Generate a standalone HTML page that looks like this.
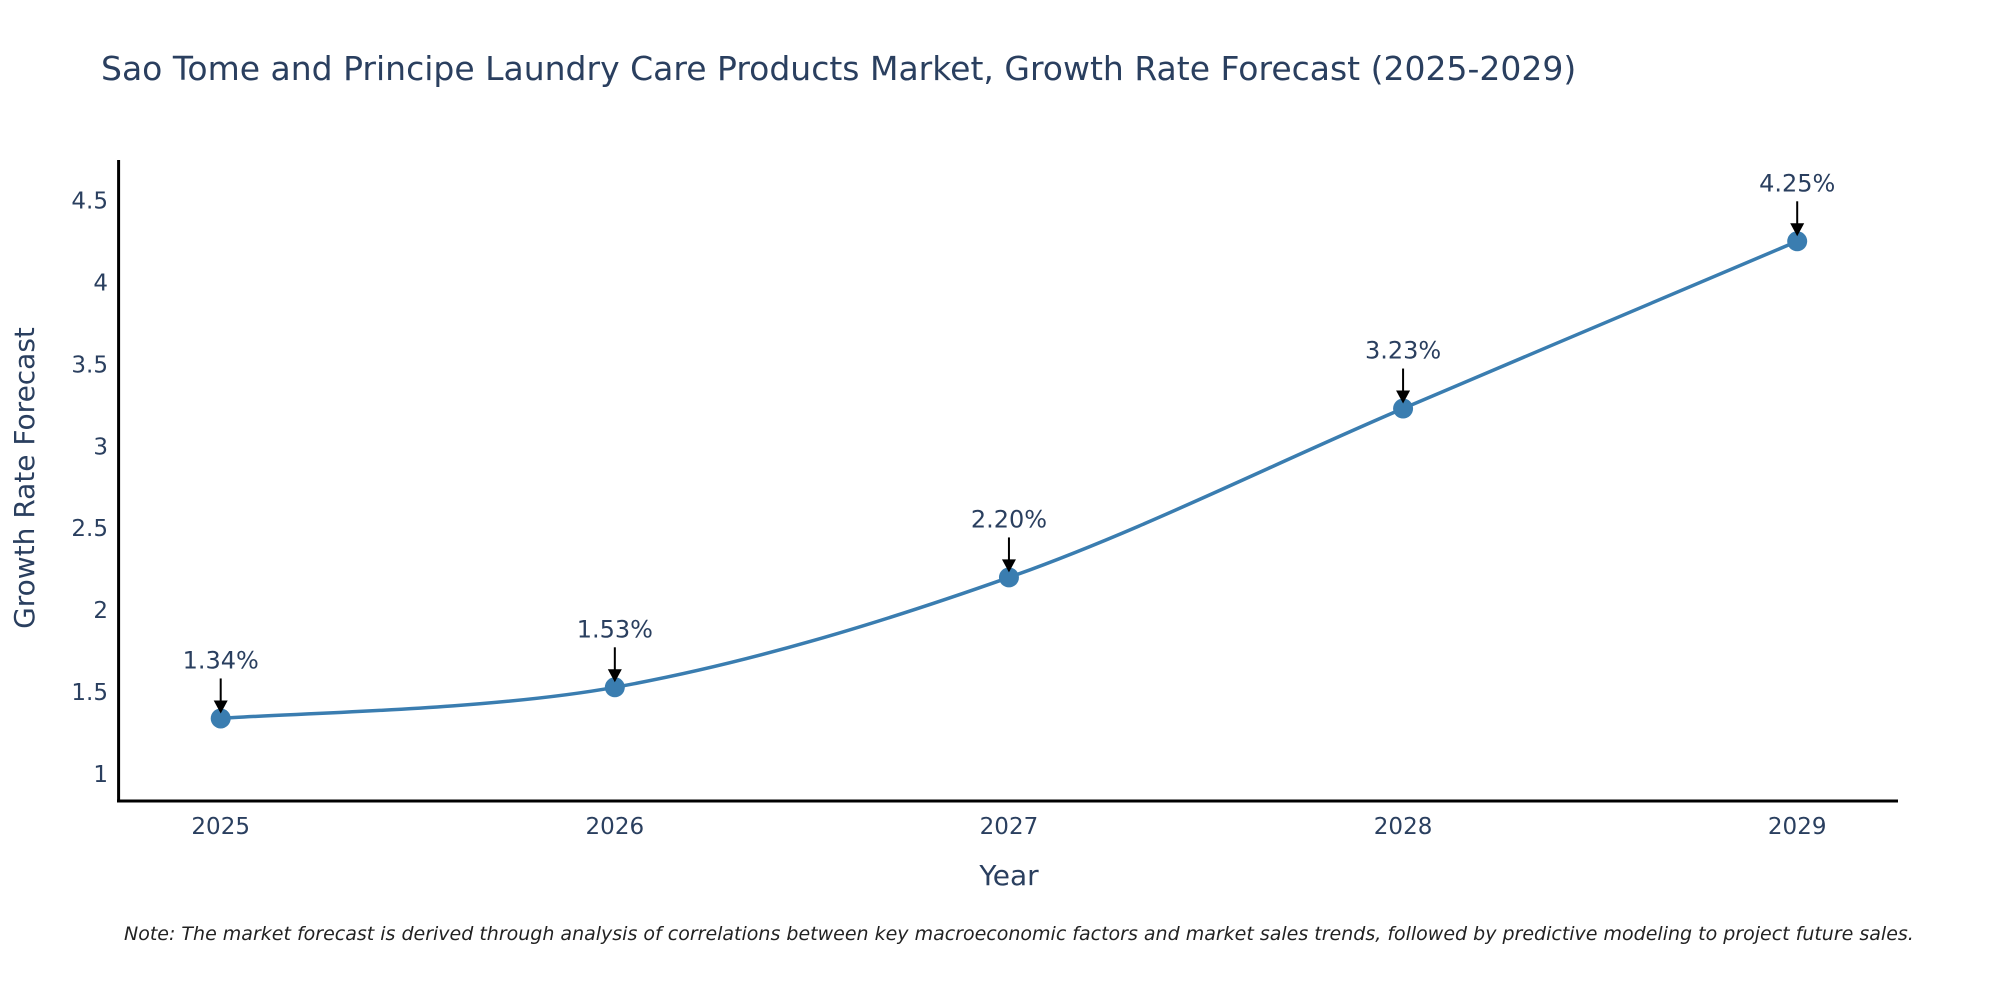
<!DOCTYPE html>
<html><head><meta charset="utf-8"><style>
body{margin:0;background:#fff;width:2000px;height:1000px;overflow:hidden}
svg text{font-family:"DejaVu Sans","Liberation Sans",sans-serif;fill:#2a3f5f}
</style></head><body>
<svg id="chart" width="2000" height="1000" xmlns="http://www.w3.org/2000/svg">
<text x="101" y="80" font-size="33">Sao Tome and Principe Laundry Care Products Market, Growth Rate Forecast (2025-2029)</text>
<g id="axes"></g>
<g id="series"></g>
<text transform="translate(34,478) rotate(-90)" text-anchor="middle" font-size="28">Growth Rate Forecast</text>
<text x="1009" y="885" text-anchor="middle" font-size="28">Year</text>
<text x="124" y="940" font-size="19" font-style="italic" style="fill:#222">Note: The market forecast is derived through analysis of correlations between key macroeconomic factors and market sales trends, followed by predictive modeling to project future sales.</text>
</svg>
<script>
const years=["2025","2026","2027","2028","2029"];
const values=[1.34,1.53,2.20,3.23,4.25];
const labels=["1.34%","1.53%","2.20%","3.23%","4.25%"];
const yTicks=[1,1.5,2,2.5,3,3.5,4,4.5];
const NS="http://www.w3.org/2000/svg";
function xS(i){return 220.7+i*(1797.2-220.7)/(years.length-1);}
function yS(v){return 774.2-(v-1)*(774.2-200.3)/3.5;}
function mk(t,a,p){const e=document.createElementNS(NS,t);for(const k in a)e.setAttribute(k,a[k]);p.appendChild(e);return e;}
const ax=document.getElementById('axes'),sr=document.getElementById('series');
let l=mk('line',{x1:118.6,y1:160,x2:118.6,y2:802,stroke:'#000','stroke-width':3},ax);


l=mk('line',{x1:117,y1:801,x2:1898,y2:801,stroke:'#000','stroke-width':3},ax);


yTicks.forEach(v=>{const t=mk('text',{x:108,y:yS(v)+8,'text-anchor':'end','font-size':23},ax);t.textContent=String(v);

});
years.forEach((y,i)=>{const t=mk('text',{x:xS(i),y:834,'text-anchor':'middle','font-size':23},ax);t.textContent=y;

});
const pts=values.map((v,i)=>[xS(i),yS(v)]);
let d='M'+pts[0][0]+','+pts[0][1];
for(let i=0;i<pts.length-1;i++){const p0=pts[Math.max(0,i-1)],p1=pts[i],p2=pts[i+1],p3=pts[Math.min(pts.length-1,i+2)];
const c1=[p1[0]+(p2[0]-p0[0])/6,p1[1]+(p2[1]-p0[1])/6],c2=[p2[0]-(p3[0]-p1[0])/6,p2[1]-(p3[1]-p1[1])/6];
d+=` C${c1[0]},${c1[1]} ${c2[0]},${c2[1]} ${p2[0]},${p2[1]}`;}
const path=mk('path',{d:d,fill:'none',stroke:'#3a7db0','stroke-width':3.5},sr);


pts.forEach((p,i)=>{
const c=mk('circle',{cx:p[0],cy:p[1],r:10,fill:'#3a7db0'},sr);


const a=mk('line',{x1:p[0],y1:p[1]-40,x2:p[0],y2:p[1]-16,stroke:'#000','stroke-width':2},sr);


const h=mk('polygon',{points:`${p[0]-7},${p[1]-18} ${p[0]+7},${p[1]-18} ${p[0]},${p[1]-5}`,fill:'#000'},sr);


const t=mk('text',{x:p[0],y:p[1]-50,'text-anchor':'middle','font-size':24},sr);t.textContent=labels[i];

});
</script>
</body></html>
